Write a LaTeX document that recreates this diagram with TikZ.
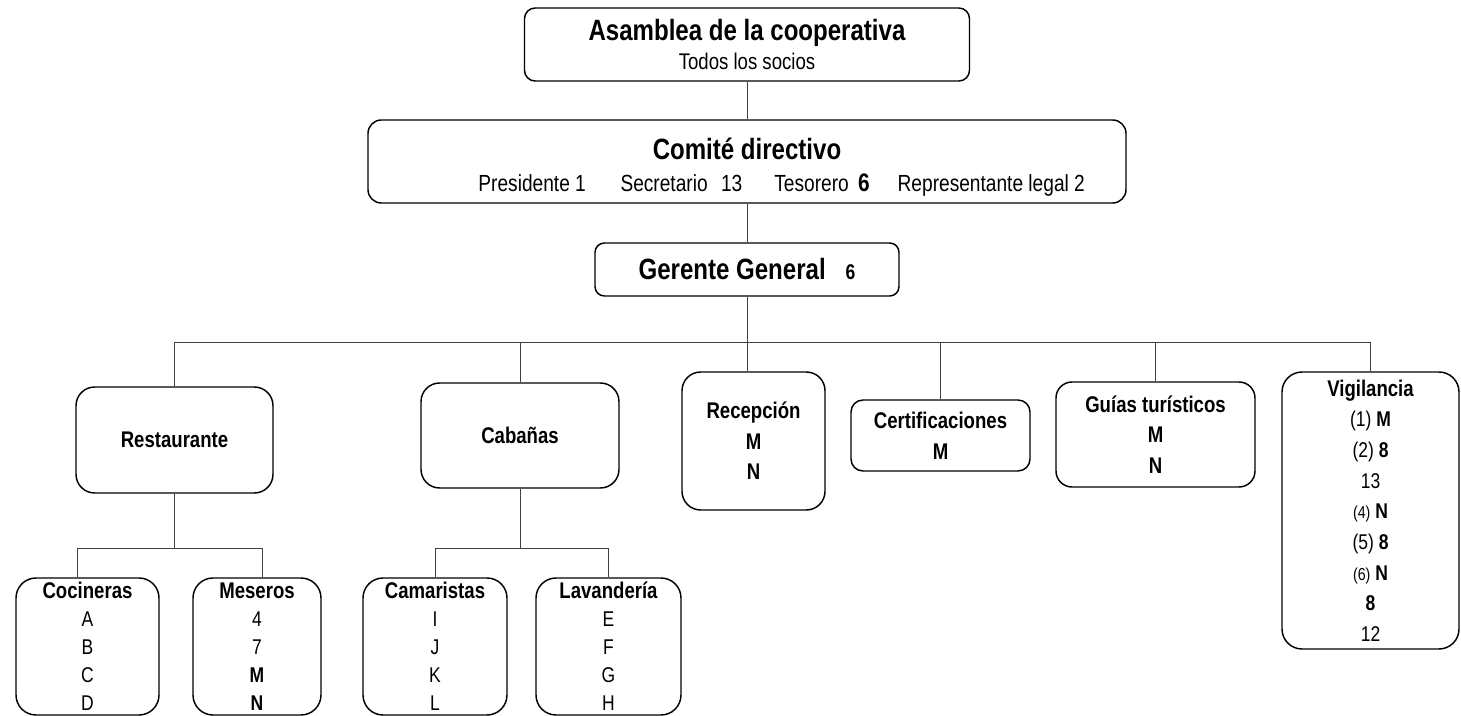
\documentclass[tikz,border=0pt]{standalone}
\usepackage{fontspec}
\setmainfont{Liberation Sans}[FakeStretch=0.82]
\usetikzlibrary{positioning}

\newcommand{\bigt}{\fontsize{22}{26}\selectfont\bfseries}
\newcommand{\subt}{\fontsize{17}{21}\selectfont}
\newcommand{\ttl}{\fontsize{17}{21}\selectfont\bfseries}
\newcommand{\lst}{\fontsize{16}{21}\selectfont}
\newcommand{\smn}[1]{{\fontsize{13}{16}\selectfont #1}}

\tikzset{
    orgbox/.style n args={3}{draw, line width=1.1pt, rounded corners=#3,
        minimum width=#1*0.75pt, minimum height=#2*0.75pt,
        inner sep=0pt, align=center},
    link/.style={draw=black!75, line width=0.6pt}
}

\begin{document}
\begin{tikzpicture}[x=0.75pt, y=-0.75pt]
    \useasboundingbox (0, 0) rectangle (1461, 716);

    % top levels
    \node[orgbox={445}{73}{8pt}, font=\subt] (asam) at (747, 44.5)
        {{\bigt Asamblea de la cooperativa}\\[1pt]Todos los socios};
    \node[orgbox={758}{83}{10pt}, font=\fontsize{17.5}{21}\selectfont] (comite) at (747, 161.5)
        {\rule{0pt}{24pt}{\bigt Comit\'e directivo}\\[3pt]\hspace*{52pt}Presidente 1\hspace{26pt}Secretario\hspace{10pt}13\hspace{24pt}Tesorero\hspace{7pt}{\fontsize{19}{21}\selectfont\bfseries 6}\hspace{21pt}Representante legal 2};
    \node[orgbox={304}{53}{7pt}] (ger) at (747, 269.5)
        {{\bigt Gerente General}\hspace{15pt}{\fontsize{16}{20}\selectfont\bfseries 6}};

    % areas
    \node[orgbox={197}{106}{14pt}, font=\ttl] (rest) at (174.5, 440) {Restaurante};
    \node[orgbox={198}{105}{14pt}, font=\ttl] (cab) at (520, 435.5) {Caba\~nas};
    \node[orgbox={143}{138}{14pt}, font=\fontsize{17}{23}\selectfont\bfseries] (rec) at (753.5, 441)
        {Recepci\'on\\M\\N};
    \node[orgbox={179}{71}{9pt}, font=\fontsize{17}{23}\selectfont\bfseries] (cert) at (940.5, 435.5)
        {Certificaciones\\M};
    \node[orgbox={199}{105}{12pt}, font=\fontsize{17}{23}\selectfont\bfseries] (guia) at (1155.5, 434.5)
        {Gu\'ias tur\'isticos\\M\\N};
    \node[orgbox={177}{277}{15pt}, font=\fontsize{16}{23}\selectfont] (vig) at (1370.5, 510.5)
        {{\ttl Vigilancia}\\(1) \textbf{M}\\(2) \textbf{8}\\13\\\smn{(4)} \textbf{N}\\(5) \textbf{8}\\\smn{(6)} \textbf{N}\\\textbf{8}\\12};

    % teams
    \node[orgbox={143}{137}{15pt}, font=\lst] (coc) at (87.5, 646.5)
        {{\ttl Cocineras}\\A\\B\\C\\D};
    \node[orgbox={128}{137}{15pt}, font=\lst] (mes) at (257, 646.5)
        {{\ttl Meseros}\\4\\7\\\textbf{M}\\\textbf{N}};
    \node[orgbox={144}{137}{15pt}, font=\lst] (cam) at (435, 646.5)
        {{\ttl Camaristas}\\I\\J\\K\\L};
    \node[orgbox={145}{137}{15pt}, font=\lst] (lav) at (608.5, 646.5)
        {{\ttl Lavander\'ia}\\E\\F\\G\\H};

    % connectors
    \coordinate (bus) at (747, 342);
    \coordinate (rbus) at (174.5, 548);
    \coordinate (cbus) at (520, 548);

    \draw[link]
        (asam.south) -- (comite.north)
        (comite.south) -- (ger.north)
        (ger.south) -- (bus)
        (bus) -- (bus |- rec.north);
    \foreach \n in {rest, cab, cert, guia, vig} {
        \draw[link] (bus) -| (\n.north);
    }

    \draw[link] (rest.south) -- (rbus);
    \draw[link] (cab.south) -- (cbus);
    \draw[link]
        (rbus) -| ([xshift=-7.5pt]coc.north)
        (rbus) -| ([xshift=3.75pt]mes.north)
        (cbus) -| (cam.north)
        (cbus) -| (lav.north);
\end{tikzpicture}
\end{document}
